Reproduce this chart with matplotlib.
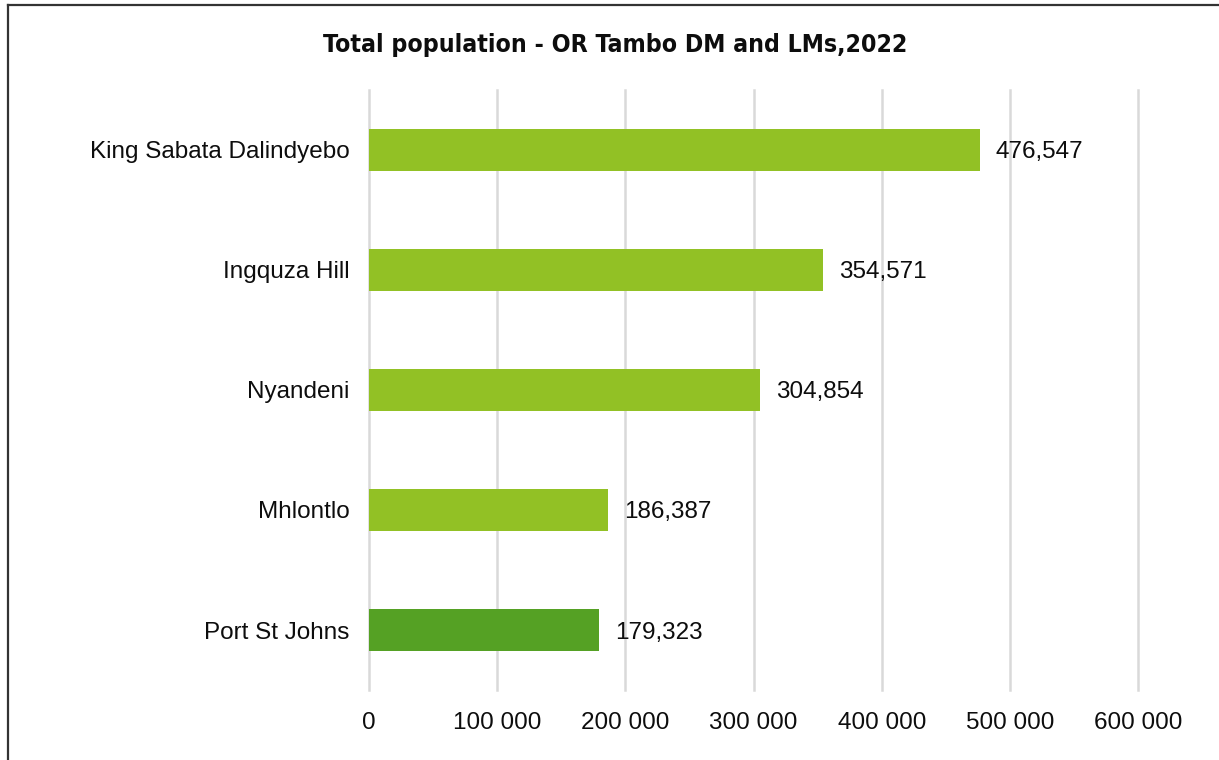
import matplotlib.pyplot as plt
from matplotlib.lines import Line2D

municipios = ["Port St Johns", "Mhlontlo", "Nyandeni", "Ingquza Hill", "King Sabata Dalindyebo"]
poblacion = [179323, 186387, 304854, 354571, 476547]
colores = ["#55A124", "#92C125", "#92C125", "#92C125", "#92C125"]
marcas_x = [0, 100000, 200000, 300000, 400000, 500000, 600000]

fig = plt.figure(figsize=(12.19, 7.6), dpi=100)
ax = fig.add_axes([0.3027, 0.0921, 0.6309, 0.7895])

ax.barh(range(len(municipios)), poblacion, height=0.35, color=colores, zorder=3)
for i, v in enumerate(poblacion):
    ax.text(v + 12500, i, f"{v:,}", va="center_baseline", ha="left",
            fontsize=17.5, family="Liberation Sans", color="#0D0D0D")

ax.set_xlim(0, 600000)
ax.set_ylim(-0.5, len(municipios) - 0.5)
ax.set_xticks(marcas_x)
ax.set_xticklabels([f"{m:,}".replace(",", " ") for m in marcas_x],
                   fontsize=17.5, family="Liberation Sans", color="#0D0D0D")
ax.set_yticks(range(len(municipios)))
ax.set_yticklabels(municipios, fontsize=17.5, family="Liberation Sans", color="#0D0D0D")
ax.tick_params(axis="both", length=0)
ax.tick_params(axis="x", pad=16)
ax.tick_params(axis="y", pad=14)
ax.grid(axis="x", color="#D9D9D9", linewidth=1.8, zorder=0)
for gl in ax.get_xgridlines():
    gl.set_clip_on(False)
for s in ax.spines.values():
    s.set_visible(False)

fig.text(0.505, 0.941, "Total population - OR Tambo DM and LMs,2022",
         ha="center", va="center", fontsize=17.8, fontweight="bold",
         family="DejaVu Sans", fontstretch="condensed", color="#0D0D0D")

# marco del grafico (solo arriba e izquierda)
fig.add_artist(Line2D([0.0066, 0.0066], [0, 0.9934], transform=fig.transFigure,
                      color="#333333", linewidth=1.6))
fig.add_artist(Line2D([0.0066, 1.0], [0.9934, 0.9934], transform=fig.transFigure,
                      color="#333333", linewidth=1.6))

fig.savefig("out.png", dpi=100)
